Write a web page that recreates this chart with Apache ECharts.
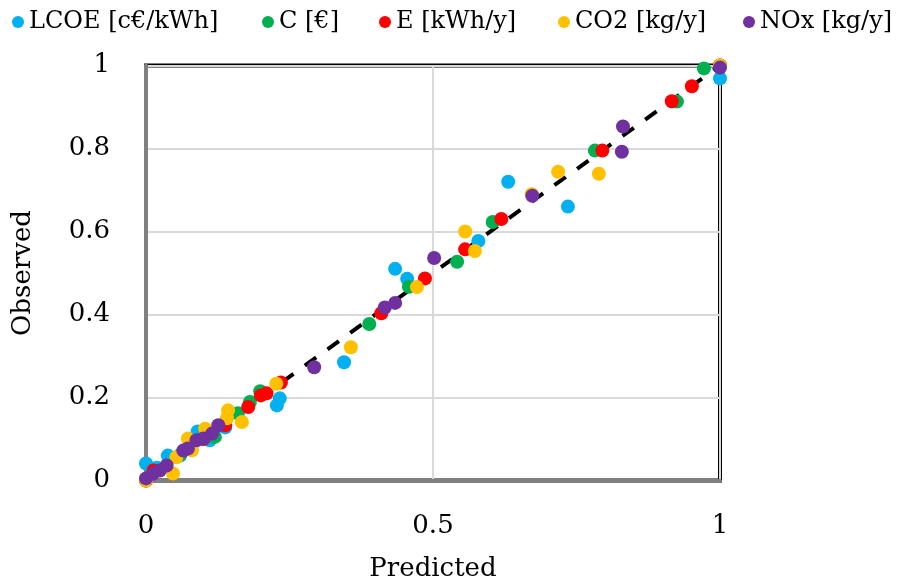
<!DOCTYPE html>
<html><head><meta charset="utf-8">
<script src="https://cdn.jsdelivr.net/npm/echarts@6/dist/echarts.min.js"></script>
<style>html,body{margin:0;padding:0;background:#fff}#c{width:897px;height:588px}</style>
</head><body><div id="c"></div>
<script>
const seriesNames = ['LCOE [c€/kWh]', 'C [€]', 'E [kWh/y]', 'CO2 [kg/y]', 'NOx [kg/y]'];
const seriesColors = ['#00b0f0', '#00b050', '#ff0000', '#ffc000', '#7030a0'];

const lcoeX = [0, 0.019, 0.038, 0.059, 0.09, 0.111, 0.138, 0.228, 0.233, 0.345, 0.434, 0.455, 0.579, 0.631, 0.735, 1];
const lcoeY = [0.041, 0.031, 0.06, 0.06, 0.118, 0.097, 0.128, 0.181, 0.198, 0.285, 0.51, 0.486, 0.577, 0.72, 0.66, 0.969];

const cX = [0, 0.06, 0.12, 0.16, 0.181, 0.199, 0.389, 0.458, 0.542, 0.604, 0.782, 0.925, 0.972, 1];
const cY = [0, 0.062, 0.105, 0.162, 0.189, 0.215, 0.377, 0.467, 0.527, 0.623, 0.795, 0.913, 0.993, 1];

const eX = [0, 0.013, 0.1, 0.138, 0.178, 0.2, 0.21, 0.235, 0.41, 0.486, 0.556, 0.619, 0.795, 0.916, 0.951, 1];
const eY = [0, 0.024, 0.1, 0.133, 0.177, 0.205, 0.21, 0.236, 0.403, 0.487, 0.557, 0.63, 0.795, 0.914, 0.95, 1];

const co2X = [0, 0.047, 0.053, 0.08, 0.073, 0.103, 0.141, 0.143, 0.167, 0.227, 0.357, 0.472, 0.556, 0.573, 0.672, 0.718, 0.789, 1];
const co2Y = [0, 0.017, 0.056, 0.073, 0.101, 0.125, 0.15, 0.169, 0.141, 0.233, 0.321, 0.466, 0.6, 0.553, 0.69, 0.744, 0.739, 1];

const noxX = [0, 0.012, 0.024, 0.036, 0.065, 0.073, 0.088, 0.1, 0.115, 0.126, 0.293, 0.416, 0.434, 0.502, 0.673, 0.829, 0.831, 1];
const noxY = [0.005, 0.016, 0.024, 0.036, 0.072, 0.077, 0.097, 0.101, 0.113, 0.133, 0.273, 0.417, 0.428, 0.536, 0.686, 0.792, 0.853, 0.995];

const fitX = [0, 1];
const fitY = [0, 1];

const xTicks = [0, 0.5, 1];
const yTicks = [0, 0.2, 0.4, 0.6, 0.8, 1];

const zip = (xs, ys) => xs.map((x, i) => [x, ys[i]]);
const allX = [lcoeX, cX, eX, co2X, noxX];
const allY = [lcoeY, cY, eY, co2Y, noxY];

const FONT = 'DejaVu Serif';
const legendLefts = [7, 257, 374, 553, 738];

const chart = echarts.init(document.getElementById('c'), null, {renderer: 'canvas'});
const option = {
  animation: false,
  backgroundColor: '#fff',
  textStyle: {fontFamily: FONT},
  legend: seriesNames.map((n, i) => ({
    data: [n], left: legendLefts[i], top: 5, icon: 'circle', itemWidth: 12, itemHeight: 12,
    itemGap: 0, textStyle: {fontFamily: FONT, fontSize: 24, color: '#000'}, selectedMode: false
  })),
  grid: {left: 146, top: 65.5, right: 177, bottom: 107.5, show: true, borderColor: '#000', borderWidth: 4, containLabel: false},
  xAxis: {
    type: 'value', min: 0, max: 1, interval: 0.5,
    name: 'Predicted', nameLocation: 'middle', nameGap: 76,
    nameTextStyle: {fontFamily: FONT, fontSize: 26, color: '#000'},
    axisLine: {show: true, lineStyle: {color: '#808080', width: 4}},
    axisTick: {show: false},
    axisLabel: {fontFamily: FONT, fontSize: 26, color: '#000', margin: 33,
      formatter: v => xTicks.includes(v) ? String(v) : ''},
    splitLine: {show: true, lineStyle: {color: '#d9d9d9', width: 2}}
  },
  yAxis: {
    type: 'value', min: 0, max: 1, interval: 0.2,
    name: 'Observed', nameLocation: 'middle', nameGap: 110, nameRotate: 90,
    nameTextStyle: {fontFamily: FONT, fontSize: 26, color: '#000'},
    axisLine: {show: true, lineStyle: {color: '#808080', width: 4}},
    axisTick: {show: false},
    axisLabel: {fontFamily: FONT, fontSize: 26, color: '#000', margin: 36,
      formatter: v => { const t = yTicks.find(t => Math.abs(t - v) < 1e-9); return t === undefined ? '' : String(t); }},
    splitLine: {show: true, lineStyle: {color: '#d9d9d9', width: 2}}
  },
  series: [
    {type: 'line', name: 'fit', data: zip(fitX, fitY), symbol: 'none', z: 1,
      lineStyle: {color: '#000', width: 4, type: [14, 14]}, silent: true}
  ].concat(seriesNames.map((n, i) => ({
    type: 'scatter', name: n, data: zip(allX[i], allY[i]), symbol: 'circle', symbolSize: 14,
    clip: false, z: 3 + i, itemStyle: {color: seriesColors[i], opacity: 1}
  })))
};
chart.setOption(option);
</script></body></html>
